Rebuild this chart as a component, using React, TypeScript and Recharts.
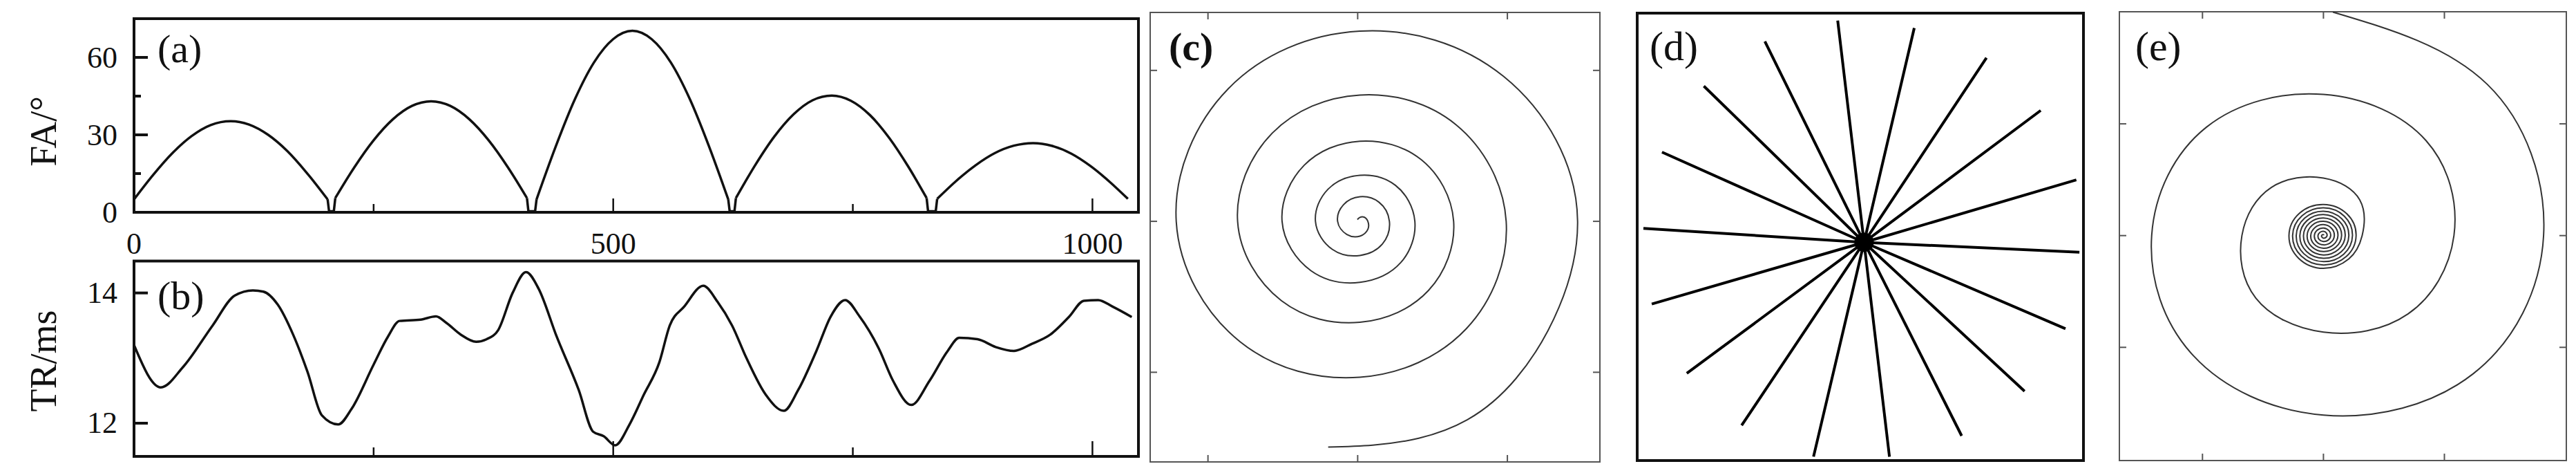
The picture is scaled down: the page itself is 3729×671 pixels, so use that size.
import React from 'react';
import { ComposedChart, Line, XAxis, YAxis, ReferenceArea } from 'recharts';

const FONT = '"Liberation Serif", "Times New Roman", serif';

// ---------- (a) flip angle ----------
const faArches: [number, number][][] = [
  [[0, 5.0], [20, 14.5], [40, 22.9], [60, 29.5], [80, 33.8], [101, 35.3], [120, 34.0], [140, 30.0], [160, 23.7], [180, 15.4], [202, 5.0]],
  [[210, 5.5], [230, 17.5], [250, 27.9], [270, 36.0], [290, 41.2], [310, 43.0], [330, 41.2], [350, 36.0], [370, 27.9], [390, 17.5], [410, 5.5]],
  [[420, 5.0], [440, 25.5], [460, 43.8], [480, 58.1], [500, 67.1], [520, 70.3], [540, 67.1], [560, 58.1], [580, 43.8], [600, 25.5], [620, 5.0]],
  [[628, 5.5], [648, 18.2], [668, 29.3], [688, 37.9], [708, 43.4], [728, 45.2], [748, 43.2], [768, 37.6], [788, 28.8], [808, 17.6], [827, 5.5]],
  [[838, 5.2], [858, 12.2], [878, 18.2], [898, 22.9], [918, 25.8], [938, 26.8], [958, 25.7], [978, 22.7], [998, 17.9], [1018, 11.8], [1037, 5.2]],
];
const faDips: [number, number][][] = [
  [[202, 5.0], [203.5, 0.4], [208.5, 0.4], [210, 5.5]],
  [[410, 5.5], [411.5, 0.4], [418.5, 0.4], [420, 5.0]],
  [[620, 5.0], [621.5, 0.4], [626.5, 0.4], [628, 5.5]],
  [[827, 5.5], [828.5, 0.4], [836.5, 0.4], [838, 5.2]],
];
const faXDomain = [0, 1048];
const faYDomain = [0, 75];
const faXTicks = [0, 250, 500, 750, 1000];
const faXLabels = [0, 500, 1000];
const faYTicks = [0, 15, 30, 45, 60];
const faYLabels = [0, 30, 60];

// ---------- (b) repetition time ----------
const trPoints: [number, number][] = [
  [0, 13.2], [28, 12.55], [51, 12.86], [82, 13.5], [105, 13.96], [124, 14.04], [135, 14.02], [150, 13.82], [166, 13.36], [181, 12.79],
  [196, 12.12], [213, 11.98], [227, 12.22], [250, 12.9], [265, 13.33], [277, 13.57], [299, 13.59], [315, 13.64], [326, 13.54], [341, 13.36],
  [357, 13.25], [368, 13.29], [380, 13.43], [395, 14.0], [409, 14.32], [422, 14.07], [441, 13.33], [464, 12.51], [479, 11.87], [490, 11.8],
  [502, 11.66], [517, 11.98], [532, 12.44], [548, 12.93], [559, 13.5], [574, 13.79], [594, 14.11], [609, 13.86], [624, 13.5], [639, 13.0],
  [659, 12.44], [678, 12.19], [693, 12.51], [712, 13.11], [727, 13.64], [742, 13.89], [757, 13.64], [777, 13.15], [792, 12.65], [811, 12.28],
  [830, 12.65], [849, 13.11], [861, 13.31], [880, 13.29], [899, 13.17], [918, 13.11], [937, 13.22], [956, 13.36], [976, 13.64], [991, 13.88],
  [1006, 13.89], [1021, 13.79], [1041, 13.63],
];
const trXDomain = [0, 1048];
const trYDomain = [11.49, 14.49];
const trXTicks = [250, 500, 750, 1000];
const trYTicks = [12, 14];
const trYLabels = [12, 14];

// ---------- (c) variable-density spiral (outer end -> centre) ----------
const spiralC: [number, number][] = [
  [-0.197, -1.496], [0.408, -1.437], [1.057, -1.042], [1.469, 0], [0.975, 0.96], [0.015, 1.26], [-0.864, 0.879], [-1.212, 0],
  [-0.784, -0.799], [0.015, -1.033], [0.726, -0.711], [0.992, 0], [0.656, 0.641], [0.015, 0.837], [-0.57, 0.585], [-0.802, 0],
  [-0.51, -0.525], [0.015, -0.669], [0.473, -0.458], [0.641, 0], [0.424, 0.409], [0.015, 0.531], [-0.357, 0.372], [-0.505, 0],
  [-0.312, -0.327], [0.015, -0.404], [0.288, -0.273], [0.382, 0], [0.253, 0.238], [0.015, 0.305], [-0.198, 0.213], [-0.282, 0],
  [-0.17, -0.185], [0.015, -0.226], [0.165, -0.15], [0.212, 0], [0.142, 0.127], [0.015, 0.163], [-0.095, 0.11], [-0.134, 0],
  [-0.072, -0.087], [0.015, -0.098], [0.068, -0.053], [0.068, 0], [0.043, 0.028], [0.015, 0.026], [-0.002, 0.012],
];
const cXDomain = [-1.386, 1.618];
const cYDomain = [-1.594, 1.384];
const kTicks = [-1, 0, 1];

// ---------- (d) radial spokes ----------
const radialEnds: [number, number][] = [
  [-85, 745], [162, 720], [395, 620], [570, 443], [685, 210], [695, -33], [650, -290], [518, -500], [315, -650],
  [82, -720], [-163, -720], [-395, -615], [-572, -440], [-685, -207], [-712, 47], [-652, 303], [-517, 525], [-320, 675],
];
const radialCenter: [number, number] = [0, 0];
const dXDomain = [-732, 708];
const dYDomain = [-733, 770];

// ---------- (e) dual-density spiral ----------
const spiralEOuter: [number, number][] = [
  [0.078, 2.0], [1.354, 1.354], [1.82, 0], [1.237, -1.237], [0, -1.606], [-1.075, -1.075],
  [-1.42, 0], [-0.969, 0.969], [0, 1.263], [0.849, 0.849], [1.079, 0], [0.7, -0.7], [0, -0.864], [-0.559, -0.559],
  [-0.674, 0], [-0.431, 0.431], [0, 0.515], [0.3, 0.32],
];
const spiralECore: [number, number][] = [
  [0.32, 0], [0.209, -0.209], [0, -0.293], [-0.204, -0.204], [-0.285, 0], [-0.199, 0.199], [0, 0.278], [0.194, 0.194],
  [0.27, 0], [0.188, -0.188], [0, -0.263], [-0.183, -0.183], [-0.255, 0], [-0.177, 0.177], [0, 0.248], [0.173, 0.173],
  [0.24, 0], [0.167, -0.167], [0, -0.233], [-0.162, -0.162], [-0.225, 0], [-0.156, 0.156], [0, 0.218], [0.151, 0.151],
  [0.21, 0], [0.146, -0.146], [0, -0.203], [-0.141, -0.141], [-0.195, 0], [-0.135, 0.135], [0, 0.188], [0.13, 0.13],
  [0.18, 0], [0.124, -0.124], [0, -0.173], [-0.119, -0.119], [-0.165, 0], [-0.114, 0.114], [0, 0.158], [0.109, 0.109],
  [0.15, 0], [0.103, -0.103], [0, -0.143], [-0.098, -0.098], [-0.135, 0], [-0.093, 0.093], [0, 0.128], [0.088, 0.088],
  [0.12, 0], [0.082, -0.082], [0, -0.113], [-0.077, -0.077], [-0.105, 0], [-0.071, 0.071], [0, 0.098], [0.066, 0.066],
  [0.09, 0], [0.061, -0.061], [0, -0.083], [-0.056, -0.056], [-0.075, 0], [-0.05, 0.05], [0, 0.068], [0.045, 0.045],
  [0.06, 0], [0.04, -0.04], [0, -0.053], [-0.035, -0.035], [-0.045, 0], [-0.029, 0.029], [0, 0.038], [0.024, 0.024],
  [0.03, 0], [0.018, -0.018], [0, -0.023], [-0.013, -0.013], [-0.015, 0], [-0.008, 0.008], [0, 0.008], [0.003, 0.003],
];
const eXDomain = [-1.687, 2.008];
const eYDomain = [-2.013, 2.003];

const toXY = (pts: [number, number][]) => pts.map(([x, y]) => ({ x, y }));

type Side = 'left' | 'right' | 'top' | 'bottom';
function makeTick(
  side: Side,
  lenOf: (v: number) => number,
  stroke: string,
  sw: number,
  labels: number[] = [],
  labelOffset = 0,
  fontSize = 44,
) {
  return (props: any) => {
    const { x, y, payload } = props;
    const v = payload.value as number;
    const L = lenOf(v);
    let x2 = x;
    let y2 = y;
    if (side === 'left') x2 = x + L;
    if (side === 'right') x2 = x - L;
    if (side === 'top') y2 = y + L;
    if (side === 'bottom') y2 = y - L;
    let label: React.ReactNode = null;
    if (labels.includes(v)) {
      if (side === 'left') {
        label = (
          <text x={x - labelOffset} y={y} textAnchor="end" dominantBaseline="central" fontFamily={FONT} fontSize={fontSize} fill="#111">
            {v}
          </text>
        );
      } else if (side === 'bottom') {
        label = (
          <text x={x} y={y + labelOffset} textAnchor="middle" dominantBaseline="central" fontFamily={FONT} fontSize={fontSize} fill="#111">
            {v}
          </text>
        );
      }
    }
    return (
      <g>
        {L > 0 && <line x1={x} y1={y} x2={x2} y2={y2} stroke={stroke} strokeWidth={sw} />}
        {label}
      </g>
    );
  };
}

const axisCommon = { tickSize: 0, tickMargin: 0, axisLine: false, interval: 0 as const, allowDecimals: true };

const PanelA = () => (
  <ComposedChart width={1700} height={380} margin={{ top: 27, right: 52, bottom: 72, left: 193 }}>
    <XAxis type="number" dataKey="x" domain={faXDomain} ticks={faXTicks} height={1} {...axisCommon}
      tick={makeTick('bottom', (v) => (v === 0 ? 0 : v % 500 === 0 ? 20 : 12), '#111', 2.5, faXLabels, 45)} />
    <YAxis type="number" dataKey="y" domain={faYDomain} ticks={faYTicks} width={1} {...axisCommon}
      tick={makeTick('left', (v) => (v === 0 ? 0 : v % 30 === 0 ? 20 : 10), '#111', 4, faYLabels, 24)} />
    <ReferenceArea x1={faXDomain[0]} x2={faXDomain[1]} y1={faYDomain[0]} y2={faYDomain[1]} fill="none" stroke="#111" strokeWidth={4} ifOverflow="visible" />
    {faArches.map((arch, i) => (
      <Line key={'a' + i} data={toXY(arch)} dataKey="y" type="monotone" stroke="#111" strokeWidth={3.5} dot={false} activeDot={false} isAnimationActive={false} />
    ))}
    {faDips.map((dip, i) => (
      <Line key={'d' + i} data={toXY(dip)} dataKey="y" type="linear" stroke="#111" strokeWidth={3.5} dot={false} activeDot={false} isAnimationActive={false} />
    ))}
    <text x={228} y={90} fontFamily={FONT} fontSize={58} fill="#111">(a)</text>
    <text x={63} y={190} transform="rotate(-90 63 190)" textAnchor="middle" dominantBaseline="central" fontFamily={FONT} fontSize={54} fill="#111">FA/°</text>
  </ComposedChart>
);

const PanelB = () => (
  <ComposedChart width={1700} height={341} margin={{ top: 47.5, right: 52, bottom: 10, left: 193 }}>
    <XAxis type="number" dataKey="x" domain={trXDomain} ticks={trXTicks} height={1} {...axisCommon}
      tick={makeTick('bottom', (v) => (v % 500 === 0 ? 22 : 13), '#111', 2.5)} />
    <YAxis type="number" dataKey="y" domain={trYDomain} ticks={trYTicks} width={1} {...axisCommon}
      tick={makeTick('left', () => 20, '#111', 4, trYLabels, 24)} />
    <ReferenceArea x1={trXDomain[0]} x2={trXDomain[1]} y1={trYDomain[0]} y2={trYDomain[1]} fill="none" stroke="#111" strokeWidth={4} ifOverflow="visible" />
    <Line data={toXY(trPoints)} dataKey="y" type="monotone" stroke="#111" strokeWidth={3.5} dot={false} activeDot={false} isAnimationActive={false} />
    <text x={228} y={117} fontFamily={FONT} fontSize={58} fill="#111">(b)</text>
    <text x={63} y={192} transform="rotate(-90 63 192)" textAnchor="middle" dominantBaseline="central" fontFamily={FONT} fontSize={54} fill="#111">TR/ms</text>
  </ComposedChart>
);

const FRAME_GRAY = '#555';

const FramedAxes = (xd: number[], yd: number[]) => [
  <XAxis key="xb" xAxisId={0} type="number" dataKey="x" domain={xd} ticks={kTicks} height={1} {...axisCommon}
    tick={makeTick('bottom', () => 10, FRAME_GRAY, 2)} />,
  <XAxis key="xt" xAxisId="top" orientation="top" type="number" dataKey="x" domain={xd} ticks={kTicks} height={1} {...axisCommon}
    tick={makeTick('top', () => 10, FRAME_GRAY, 2)} />,
  <YAxis key="yl" yAxisId={0} type="number" dataKey="y" domain={yd} ticks={kTicks} width={1} {...axisCommon}
    tick={makeTick('left', () => 10, FRAME_GRAY, 2)} />,
  <YAxis key="yr" yAxisId="right" orientation="right" type="number" dataKey="y" domain={yd} ticks={kTicks} width={1} {...axisCommon}
    tick={makeTick('right', () => 10, FRAME_GRAY, 2)} />,
];

const PanelC = () => (
  <ComposedChart width={700} height={671} margin={{ top: 17, right: 23, bottom: 2, left: 24 }}>
    {FramedAxes(cXDomain, cYDomain)}
    <ReferenceArea x1={cXDomain[0]} x2={cXDomain[1]} y1={cYDomain[0]} y2={cYDomain[1]} fill="none" stroke={FRAME_GRAY} strokeWidth={2} ifOverflow="visible" />
    <Line data={toXY(spiralC)} dataKey="y" type="natural" stroke="#333" strokeWidth={2} dot={false} activeDot={false} isAnimationActive={false} />
    <Line data={toXY(spiralC)} xAxisId="top" yAxisId="right" dataKey="y" type="linear" stroke="none" dot={false} activeDot={false} isAnimationActive={false} />
    <text x={52} y={87} fontFamily={FONT} fontSize={58} fontWeight="bold" fill="#111">(c)</text>
  </ComposedChart>
);

const PanelD = () => (
  <ComposedChart width={700} height={671} margin={{ top: 19, right: 24, bottom: 5, left: 30 }}>
    <XAxis type="number" dataKey="x" domain={dXDomain} hide />
    <YAxis type="number" dataKey="y" domain={dYDomain} hide />
    <ReferenceArea x1={dXDomain[0]} x2={dXDomain[1]} y1={dYDomain[0]} y2={dYDomain[1]} fill="none" stroke="#111" strokeWidth={4} ifOverflow="visible" />
    {radialEnds.map((end, i) => (
      <Line key={i} data={toXY([radialCenter, end])} dataKey="y" type="linear" stroke="#000" strokeWidth={4} dot={false} activeDot={false} isAnimationActive={false} />
    ))}
    <Line data={toXY([radialCenter])} dataKey="y" stroke="none" dot={{ r: 14, fill: '#000', stroke: 'none' }} activeDot={false} isAnimationActive={false} />
    <text x={48} y={87} fontFamily={FONT} fontSize={60} fill="#111">(d)</text>
  </ComposedChart>
);

const PanelE = () => (
  <ComposedChart width={699} height={671} margin={{ top: 16, right: 13, bottom: 4, left: 37 }}>
    {FramedAxes(eXDomain, eYDomain)}
    <ReferenceArea x1={eXDomain[0]} x2={eXDomain[1]} y1={eYDomain[0]} y2={eYDomain[1]} fill="none" stroke={FRAME_GRAY} strokeWidth={2} ifOverflow="visible" />
    <Line data={toXY([...spiralEOuter, ...spiralECore])} dataKey="y" type="natural" stroke="#333" strokeWidth={2} dot={false} activeDot={false} isAnimationActive={false} />
    <Line data={toXY(spiralEOuter)} xAxisId="top" yAxisId="right" dataKey="y" type="linear" stroke="none" dot={false} activeDot={false} isAnimationActive={false} />
    <text x={61} y={87} fontFamily={FONT} fontSize={60} fill="#111">(e)</text>
  </ComposedChart>
);

export default function App() {
  return (
    <div style={{ position: 'absolute', left: 0, top: 0, width: 3729, height: 671, background: '#fff', overflow: 'hidden' }}>
      <div style={{ position: 'absolute', left: 0, top: 0 }}><PanelA /></div>
      <div style={{ position: 'absolute', left: 0, top: 330 }}><PanelB /></div>
      <div style={{ position: 'absolute', left: 1640, top: 0 }}><PanelC /></div>
      <div style={{ position: 'absolute', left: 2340, top: 0 }}><PanelD /></div>
      <div style={{ position: 'absolute', left: 3030, top: 0 }}><PanelE /></div>
    </div>
  );
}
